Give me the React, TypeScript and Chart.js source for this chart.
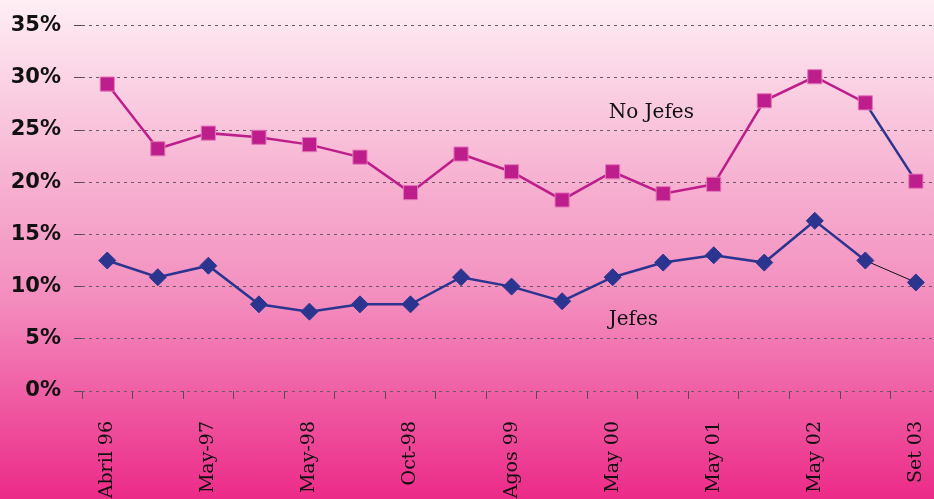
import React, { useEffect, useRef } from 'react';
import { Chart, registerables } from 'chart.js';

Chart.register(...registerables);

const categories = ['Abril 96', '', 'May-97', '', 'May-98', '', 'Oct-98', '', 'Agos 99', '', 'May 00', '', 'May 01', '', 'May 02', '', 'Set 03'];
const noJefes = [29.4, 23.2, 24.7, 24.3, 23.6, 22.4, 19.0, 22.7, 21.0, 18.3, 21.0, 18.9, 19.8, 27.8, 30.1, 27.6, 20.1];
const jefes = [12.5, 10.9, 12.0, 8.3, 7.6, 8.3, 8.3, 10.9, 10.0, 8.6, 10.9, 12.3, 13.0, 12.3, 16.3, 12.5, 10.4];
const seriesLabels = ['No Jefes', 'Jefes'];
const labelAnchors = [
  { index: 10, value: 26.6 },
  { index: 10, value: 6.8 },
];

const PINK = '#BE1E8C';
const NAVY = '#2B3590';

const textPlugin = {
  id: 'seriesText',
  afterDatasetsDraw(chart: any) {
    const { ctx, scales } = chart;
    ctx.save();
    ctx.font = '20px "DejaVu Serif"';
    ctx.fillStyle = '#111';
    ctx.textBaseline = 'middle';
    ctx.textAlign = 'left';
    seriesLabels.forEach((t, i) => {
      const a = labelAnchors[i];
      const x = scales.x.getPixelForValue(a.index) - 4;
      const y = scales.y.getPixelForValue(a.value);
      ctx.fillText(t, x, y);
    });
    ctx.restore();
  },
};

export default function App() {
  const ref = useRef<HTMLCanvasElement>(null);
  useEffect(() => {
    document.body.style.margin = '0';
    const chart = new Chart(ref.current!, {
      type: 'line',
      data: {
        labels: categories,
        datasets: [
          {
            label: seriesLabels[0],
            data: noJefes,
            borderColor: PINK,
            backgroundColor: PINK,
            borderWidth: 2.5,
            pointStyle: 'rect',
            pointRadius: 10,
            pointBorderColor: '#E477B8',
            pointBorderWidth: 1,
            pointBackgroundColor: PINK,
            tension: 0,
            segment: {
              borderColor: (c: any) => (c.p0DataIndex === noJefes.length - 2 ? NAVY : PINK),
            },
          },
          {
            label: seriesLabels[1],
            data: jefes,
            borderColor: NAVY,
            backgroundColor: NAVY,
            borderWidth: 2.5,
            pointStyle: 'rectRot',
            pointRadius: 8.5,
            pointBorderColor: NAVY,
            pointBorderWidth: 1,
            pointBackgroundColor: NAVY,
            tension: 0,
            segment: {
              borderColor: (c: any) => (c.p0DataIndex === jefes.length - 2 ? '#111' : NAVY),
              borderWidth: (c: any) => (c.p0DataIndex === jefes.length - 2 ? 1 : 2.5),
            },
          },
        ],
      },
      options: {
        animation: false,
        responsive: false,
        devicePixelRatio: 1,
        layout: { padding: { top: 24, right: 1, left: 0, bottom: 0 } },
        plugins: {
          legend: { display: false },
          tooltip: { enabled: false },
        },
        scales: {
          x: {
            offset: true,
            border: { display: false },
            grid: {
              offset: true,
              drawOnChartArea: false,
              drawTicks: true,
              tickLength: 8,
              color: '#5a4852',
            },
            ticks: {
              autoSkip: false,
              maxRotation: 90,
              minRotation: 90,
              padding: 22,
              color: '#111',
              font: { family: '"DejaVu Serif"', size: 19 },
            },
            afterFit: (s: any) => {
              s.height = 108;
            },
          },
          y: {
            min: 0,
            max: 35,
            border: { display: false, dash: [3, 4] },
            grid: {
              color: '#6b5a64',
              lineWidth: 1,
              tickBorderDash: [],
              tickLength: 8,
              tickColor: '#5a4852',
            } as any,
            ticks: {
              stepSize: 5,
              padding: 13,
              color: '#111',
              font: { family: '"DejaVu Sans"', size: 21, weight: 'bold' },
              callback: (v: any) => v + '%',
            },
            afterFit: (s: any) => {
              s.width = 82;
            },
          },
        },
      },
      plugins: [textPlugin],
    });
    return () => chart.destroy();
  }, []);
  return (
    <div
      style={{
        position: 'absolute',
        left: 0,
        top: 0,
        width: 934,
        height: 499,
        overflow: 'hidden',
        background: 'linear-gradient(to bottom, #FEEEF4 0%, #F7B3D2 35%, #F38DBE 60%, #EC2A88 100%)',
      }}
    >
      <canvas ref={ref} width={961} height={499} style={{ display: 'block' }} />
    </div>
  );
}
